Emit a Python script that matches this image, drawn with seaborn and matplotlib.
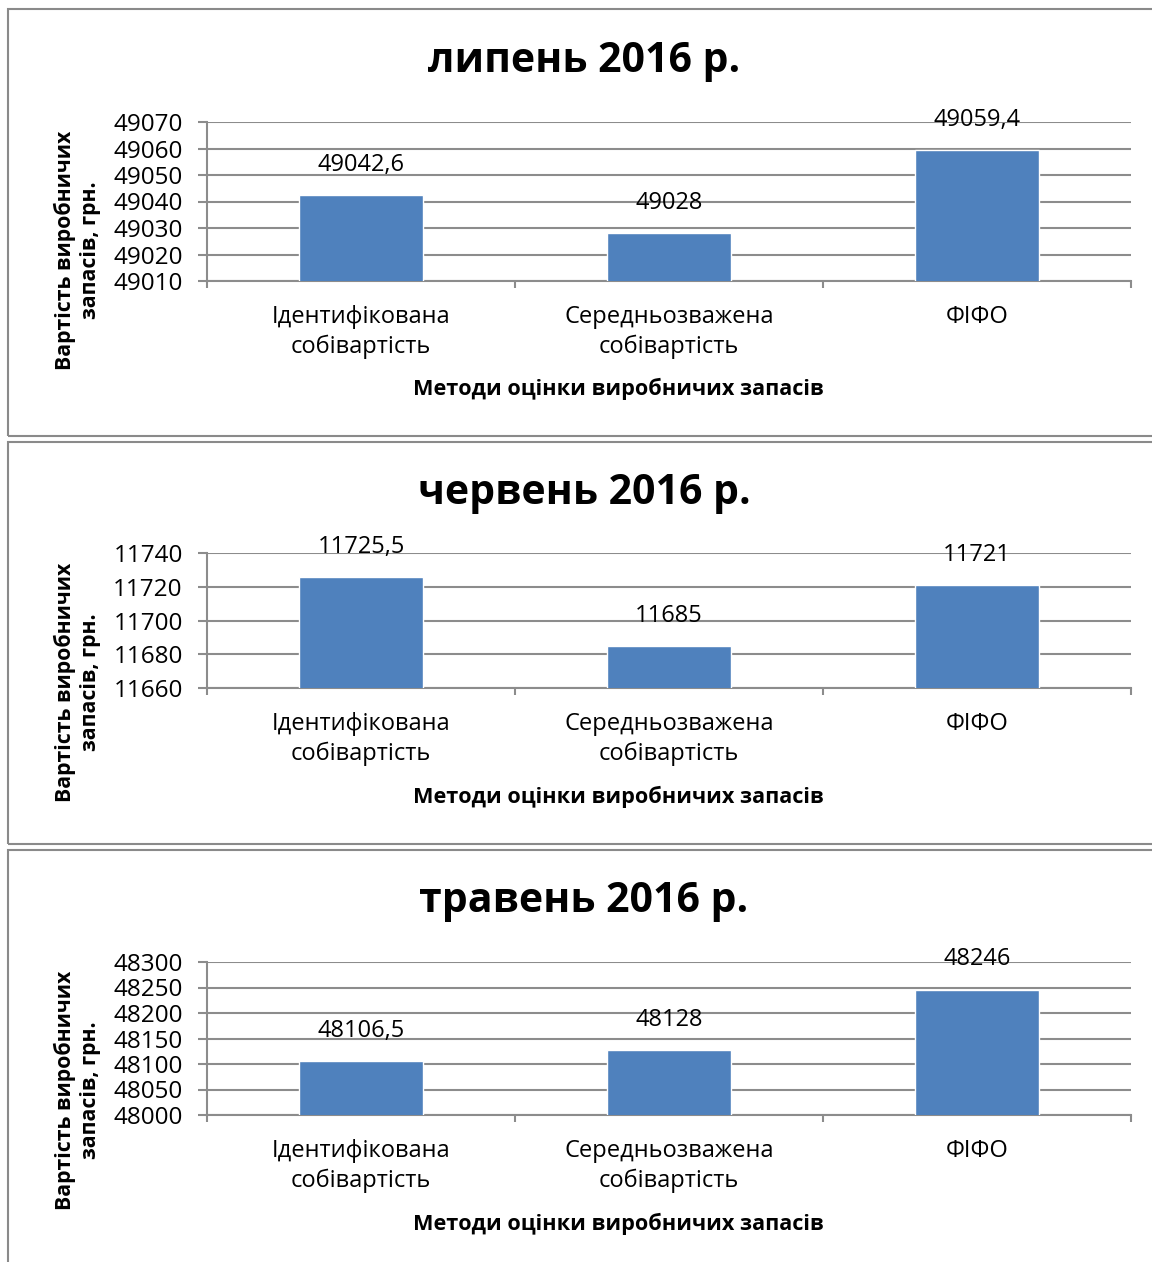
import matplotlib
matplotlib.use("Agg")
import matplotlib.pyplot as plt
from matplotlib.patches import Rectangle
from matplotlib.ticker import FixedLocator
import seaborn as sns
import pandas as pd

# ---- data -------------------------------------------------------------
months = ["липень 2016 р.", "червень 2016 р.", "травень 2016 р."]
categories = ["Ідентифікована\nсобівартість", "Середньозважена\nсобівартість", "ФІФО"]

july_values = [49042.6, 49028, 49059.4]
june_values = [11725.5, 11685, 11721]
may_values = [48106.5, 48128, 48246]

july_ticks = [49010, 49020, 49030, 49040, 49050, 49060, 49070]
june_ticks = [11660, 11680, 11700, 11720, 11740]
may_ticks = [48000, 48050, 48100, 48150, 48200, 48250, 48300]

x_title = "Методи оцінки виробничих запасів"
y_title = "Вартість виробничих\nзапасів, грн."

# ---- style ------------------------------------------------------------
sns.set_theme(style="white")
plt.rcParams["font.family"] = ["Open Sans", "DejaVu Sans"]

W, H = 1152, 1262
BAR = "#4F81BD"
GRID = "#8c8c8c"
FRAME = "#8a8a8a"

fig = plt.figure(figsize=(W / 100, H / 100), dpi=100)
fig.patch.set_facecolor("white")


def fx(x):
    return x / W


def fy(y):
    return 1 - y / H


def fmt(v):
    if float(v).is_integer():
        return str(int(v))
    return f"{v:.1f}".replace(".", ",")


# pixel layout of each chart block: frame top/bottom, plot top/bottom,
# title, axis-title rows
layout = [
    dict(frame=(9.5, 436), plot=(122, 281), title=62, xlab=389, ylab=250),
    dict(frame=(442, 844), plot=(553, 688), title=493, xlab=797, ylab=682),
    dict(frame=(849.5, 1275), plot=(962, 1115), title=902, xlab=1224, ylab=1090),
]
values = [july_values, june_values, may_values]
ticks = [july_ticks, june_ticks, may_ticks]

PLOT_L, PLOT_R = 207, 1131

for month, vals, tks, lay in zip(months, values, ticks, layout):
    # chart block frame
    f_top, f_bot = lay["frame"]
    fig.patches.append(Rectangle((fx(7.5), fy(f_bot)), fx(1160 - 7.5), (f_bot - f_top) / H,
                                 transform=fig.transFigure, fill=False,
                                 edgecolor=FRAME, linewidth=1.5, zorder=0))

    p_top, p_bot = lay["plot"]
    ax = fig.add_axes([fx(PLOT_L), fy(p_bot), fx(PLOT_R - PLOT_L), (p_bot - p_top) / H])

    df = pd.DataFrame({"method": categories, "value": vals})
    sns.barplot(data=df, x="method", y="value", color=BAR, saturation=1,
                width=0.4, ax=ax, zorder=3)

    ax.set_ylim(tks[0], tks[-1])
    ax.set_yticks(tks)
    ax.set_yticklabels([str(t) for t in tks])
    ax.set_xlim(-0.5, 2.5)

    ax.yaxis.grid(True, color=GRID, linewidth=1.5, zorder=0)
    ax.set_axisbelow(True)
    for s in ["top", "right"]:
        ax.spines[s].set_visible(False)
    for s in ["left", "bottom"]:
        ax.spines[s].set_color(GRID)
        ax.spines[s].set_linewidth(1.5)

    ax.tick_params(axis="y", which="major", direction="out", length=6.5, width=1.5,
                   color=GRID, labelsize=17.5, labelcolor="black", pad=11, left=True)
    ax.tick_params(axis="x", which="major", length=0, labelsize=17,
                   labelcolor="black", pad=17)
    ax.xaxis.set_minor_locator(FixedLocator([-0.5, 0.5, 1.5, 2.5]))
    ax.tick_params(axis="x", which="minor", direction="out", length=5, width=1.5,
                   color=GRID, bottom=True)
    for lbl in ax.get_xticklabels():
        lbl.set_linespacing(1.35)

    ax.set_xlabel("")
    ax.set_ylabel("")

    # value labels over the bars
    for cont in ax.containers:
        ax.bar_label(cont, labels=[fmt(v) for v in vals], padding=13,
                     fontsize=17, color="black", clip_on=False)

    fig.text(fx(584), fy(lay["title"]), month, ha="center", va="center",
             fontsize=29.5, fontweight="bold", color="black")
    fig.text(fx(618), fy(lay["xlab"]), x_title, ha="center", va="center",
             fontsize=15.6, fontweight="bold", color="black")
    fig.text(fx(77), fy(lay["ylab"]), y_title, ha="center", va="center",
             rotation=90, fontsize=15.3, fontweight="bold", color="black",
             linespacing=1.25)

fig.savefig("out.png", dpi=100, facecolor="white")
